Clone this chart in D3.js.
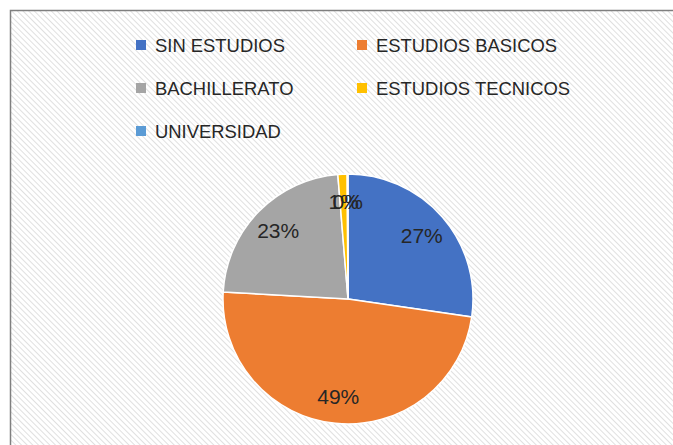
<!DOCTYPE html>
<html>
<head>
<meta charset="utf-8">
<script src="https://cdn.jsdelivr.net/npm/d3@7"></script>
<style>
  body { margin: 0; background: #fff; }
  text { font-family: "Liberation Sans", Arial, sans-serif; fill: #262626; }
</style>
</head>
<body>
<div id="chart"></div>
<script>
// Data (percent of total)
var categories = ["SIN ESTUDIOS", "ESTUDIOS BASICOS", "BACHILLERATO", "ESTUDIOS TECNICOS", "UNIVERSIDAD"];
var values = [27.3, 48.6, 22.8, 1.2, 0.1];
var colors = ["#4472C4", "#ED7D31", "#A5A5A5", "#FFC000", "#5B9BD5"];

var svgWidth = 673;
var svgHeight = 445;

var svg = d3.select("#chart")
    .append("svg")
    .attr("width", svgWidth)
    .attr("height", svgHeight);

// diagonal hatch background
var defs = svg.append("defs");
var pat = defs.append("pattern")
    .attr("id", "hatch")
    .attr("patternUnits", "userSpaceOnUse")
    .attr("width", 4)
    .attr("height", 4)
    .attr("patternTransform", "rotate(-45)");
pat.append("rect").attr("width", 4).attr("height", 4).attr("fill", "#ffffff");
pat.append("line")
    .attr("x1", 0).attr("y1", 0).attr("x2", 0).attr("y2", 4)
    .attr("stroke", "#d6d6d6")
    .attr("stroke-width", 1.5);

svg.append("rect")
    .attr("x", 10.5)
    .attr("y", 10.5)
    .attr("width", 700)
    .attr("height", 500)
    .attr("fill", "url(#hatch)")
    .attr("stroke", "#7f7f7f")
    .attr("stroke-width", 1.5);

// legend, two columns
var legend = svg.append("g");
var items = legend.selectAll("g")
    .data(categories)
    .enter()
    .append("g")
    .attr("transform", (d, i) => `translate(${136 + (i % 2) * 221}, ${40 + Math.floor(i / 2) * 43})`);

items.append("rect")
    .attr("width", 10)
    .attr("height", 10)
    .attr("fill", (d, i) => colors[i]);

items.append("text")
    .attr("x", 19)
    .attr("y", 12)
    .style("font-size", "19px")
    .attr("transform", "scale(0.97,1)")
    .attr("transform-origin", "19 0")
    .text(d => d);

// pie
var cx = 348, cy = 299, radius = 125;
var pieGroup = svg.append("g")
    .attr("transform", `translate(${cx}, ${cy})`);

var pie = d3.pie().sort(null).value(d => d);
var arcs = pie(values);

var arc = d3.arc().innerRadius(0).outerRadius(radius);
var labelArc = d3.arc().innerRadius(radius * 0.78).outerRadius(radius * 0.78);

pieGroup.selectAll("path")
    .data(arcs)
    .enter()
    .append("path")
    .attr("d", arc)
    .attr("fill", (d, i) => colors[i])
    .attr("stroke", "#ffffff")
    .attr("stroke-width", 1.5);

pieGroup.selectAll("text.lbl")
    .data(arcs)
    .enter()
    .append("text")
    .attr("class", "lbl")
    .attr("transform", d => `translate(${labelArc.centroid(d)})`)
    .attr("text-anchor", "middle")
    .attr("dy", "0.36em")
    .style("font-size", "21px")
    .text(d => Math.round(d.data) + "%");
</script>
</body>
</html>
